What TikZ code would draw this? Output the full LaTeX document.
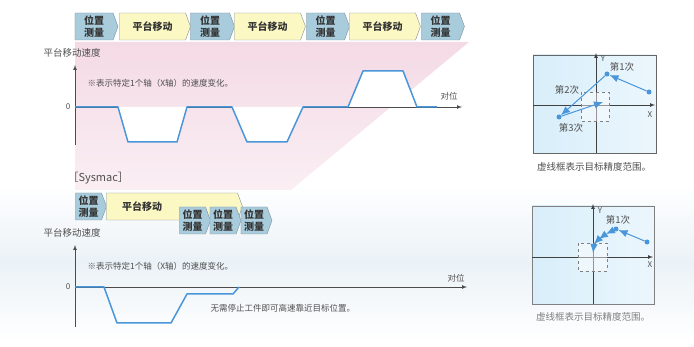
\documentclass[tikz,border=0pt]{standalone}
\usepackage{fontspec}
\setmainfont{Noto Sans CJK SC}
\usetikzlibrary{shapes.symbols,arrows.meta}
\definecolor{posblue}{HTML}{A9CCDD}
\definecolor{moveyellow}{HTML}{FCF8C4}
\definecolor{boxline}{HTML}{7F9099}
\definecolor{speedblue}{HTML}{4A96DA}
\definecolor{bgpink}{HTML}{F4DAE5}
\definecolor{bgblue}{HTML}{EBF2F7}
\definecolor{panelblue}{HTML}{D8EEFA}
\definecolor{txtgray}{HTML}{4F4F4F}

\begin{document}
\begin{tikzpicture}[x=1pt,y=-1pt,>=latex]
  \tikzset{
    stepbase/.style={draw=boxline,shape=signal,signal to=east,signal pointer angle=140,
      inner sep=0pt,minimum height=27pt,align=center,text=black!80,
      font=\fontsize{10}{12.5}\selectfont\bfseries},
    posbox/.style={stepbase,fill=posblue},
    movebox/.style={stepbase,fill=moveyellow},
    axislbl/.style={font=\fontsize{9.5}{11}\selectfont,text=txtgray},
    notelbl/.style={font=\fontsize{8.5}{10}\selectfont,text=txtgray,anchor=west},
    speed/.style={speedblue,line width=1.5pt,line join=round},
    panel/.style={draw=gray!80!black,line width=0.9pt,left color=panelblue,right color=panelblue!50!white},
    target/.style={draw=gray,dashed,fill=white,fill opacity=0.45},
    dot/.style={circle,fill=speedblue,inner sep=0pt,minimum size=5pt},
    moveline/.style={speedblue,line width=1pt,-{Latex[length=9pt,width=7.5pt]}},
    caption/.style={font=\fontsize{9.5}{11}\selectfont,text=txtgray}
  }
  \useasboundingbox (0,0) rectangle (694,347);

  % backgrounds
  \shade[top color=white,bottom color=white,middle color=bgblue] (0,185) rectangle (694,340);
  \shade[top color=bgpink,bottom color=bgpink!45!white] (75,42) -- (469,42) -- (291,190) -- (75,190) -- cycle;

  % top sequence
  \node[posbox,minimum width=43pt] (p1) at (94,26.5) {位置\\测量};
  \node[movebox,minimum width=71pt] (m1) at (152.5,26.5) {平台移动};
  \node[posbox,minimum width=44pt] (p2) at (210,26.5) {位置\\测量};
  \node[movebox,minimum width=71pt] (m2) at (267.5,26.5) {平台移动};
  \node[posbox,minimum width=43pt] (p3) at (325.5,26.5) {位置\\测量};
  \node[movebox,minimum width=71pt] (m3) at (382.5,26.5) {平台移动};
  \node[posbox,minimum width=43pt] (p4) at (440.5,26.5) {位置\\测量};

  % top speed graph
  \node[axislbl] (vlbl1) at (72,53) {平台移动速度};
  \node[notelbl] (note1) at (84,83) {※表示特定1个轴（X轴）的速度变化。};
  \node[font=\fontsize{8}{9}\selectfont,text=txtgray] (zero1) at (68,107) {0};
  \node[font=\fontsize{8.5}{10}\selectfont,text=txtgray] (tgt1) at (449,96) {对位};
  \coordinate (o1) at (75,107);
  \draw[->,gray!60!black,line width=0.7pt] (75,145) -- (75,65);
  \draw[->,gray!60!black,line width=0.7pt] (o1) -- (462,107);
  \fill[white] (118,107) -- (128,142) -- (177,142) -- (187,107) -- cycle;
  \fill[white] (232,107) -- (247,142) -- (287,142) -- (303,107) -- cycle;
  \fill[white] (348,107) -- (363,71) -- (403,71) -- (417,107) -- cycle;
  \draw[speed] (o1) -- (118,107) -- (128,142) -- (177,142) -- (187,107) -- (232,107)
    -- (247,142) -- (287,142) -- (303,107) -- (348,107) -- (363,71) -- (403,71)
    -- (417,107) -- (437,107);

  % Sysmac
  \node[anchor=west,font=\fontsize{11}{13}\selectfont,text=txtgray] (sys) at (64,178) {［Sysmac］};
  \node[posbox,minimum width=31pt] (sp1) at (88.5,206.5) {位置\\测量};
  \node[movebox,minimum width=136pt,text width=100pt,align=left,inner xsep=15pt] (sm1) at (172,206.5) {平台移动};
  \node[posbox,minimum width=31pt] (sp2) at (192.5,220.5) {位置\\测量};
  \node[posbox,minimum width=31pt] (sp3) at (223,220.5) {位置\\测量};
  \node[posbox,minimum width=31pt] (sp4) at (254,220.5) {位置\\测量};

  % bottom speed graph
  \node[axislbl] (vlbl2) at (72,233) {平台移动速度};
  \node[notelbl] (note2) at (84,266) {※表示特定1个轴（X轴）的速度变化。};
  \node[font=\fontsize{8}{9}\selectfont,text=txtgray] (zero2) at (68,287) {0};
  \node[font=\fontsize{8.5}{10}\selectfont,text=txtgray] (tgt2) at (456,278) {对位};
  \node[notelbl] (note3) at (207,308) {无需停止工件即可高速靠近目标位置。};
  \coordinate (o2) at (75,287);
  \draw[->,gray!60!black,line width=0.7pt] (75,327) -- (75,245);
  \draw[->,gray!60!black,line width=0.7pt] (o2) -- (467,287);
  \draw[speed] (o2) -- (104,287) -- (117,323) -- (171,323) -- (187,294) -- (233,294) -- (239,287);

  % panel 1
  \draw[panel] (533,55) rectangle (656,153);
  \draw[->,black!75,line width=0.7pt] (596,153) -- (596,53);
  \draw[->,black!75,line width=0.7pt] (533,105) -- (655,105);
  \node[font=\fontsize{8}{9}\selectfont,text=txtgray] (y1) at (603,59) {Y};
  \node[font=\fontsize{8}{9}\selectfont,text=txtgray] (x1) at (650,115) {X};
  \draw[target] (581,92) rectangle (609,121);
  \node[dot] (a0) at (649,92) {};
  \node[dot] (a1) at (607,74) {};
  \node[dot] (a2) at (559,117) {};
  \coordinate (a3) at (603,102);
  \draw[moveline] (a0) -- (a1);
  \draw[moveline] (a1) -- (a2);
  \draw[moveline] (a2) -- (a3);
  \node[caption] (n1) at (622,67) {第1次};
  \node[caption] (n2) at (567,90) {第2次};
  \node[caption] (n3) at (571,128) {第3次};
  \node[caption] (cap1) at (594,167) {虚线框表示目标精度范围。};

  % panel 2
  \draw[panel,draw=gray] (532,206) rectangle (654,304);
  \draw[->,black!75,line width=0.7pt] (593,304) -- (593,204);
  \draw[->,black!75,line width=0.7pt] (532,257) -- (653,257);
  \node[font=\fontsize{8}{9}\selectfont,text=txtgray] (y2) at (600,211) {Y};
  \node[font=\fontsize{8}{9}\selectfont,text=txtgray] (x2) at (650,265) {X};
  \draw[target] (578,243) rectangle (607,271);
  \node[dot] (b0) at (647,242) {};
  \node[dot] (b1) at (616,229) {};
  \coordinate (b2) at (606,234);
  \coordinate (b3) at (599,239);
  \coordinate (b4) at (594,244);
  \coordinate (b5) at (593,253);
  \draw[moveline] (b0) -- (b1);
  \draw[moveline] (b1) -- (b2);
  \draw[moveline] (b2) -- (b3);
  \draw[moveline] (b3) -- (b4);
  \draw[moveline] (b4) -- (b5);
  \node[caption] (n4) at (618,220) {第1次};
  \node[caption,text=gray] (cap2) at (593,317) {虚线框表示目标精度范围。};
\end{tikzpicture}
\end{document}
